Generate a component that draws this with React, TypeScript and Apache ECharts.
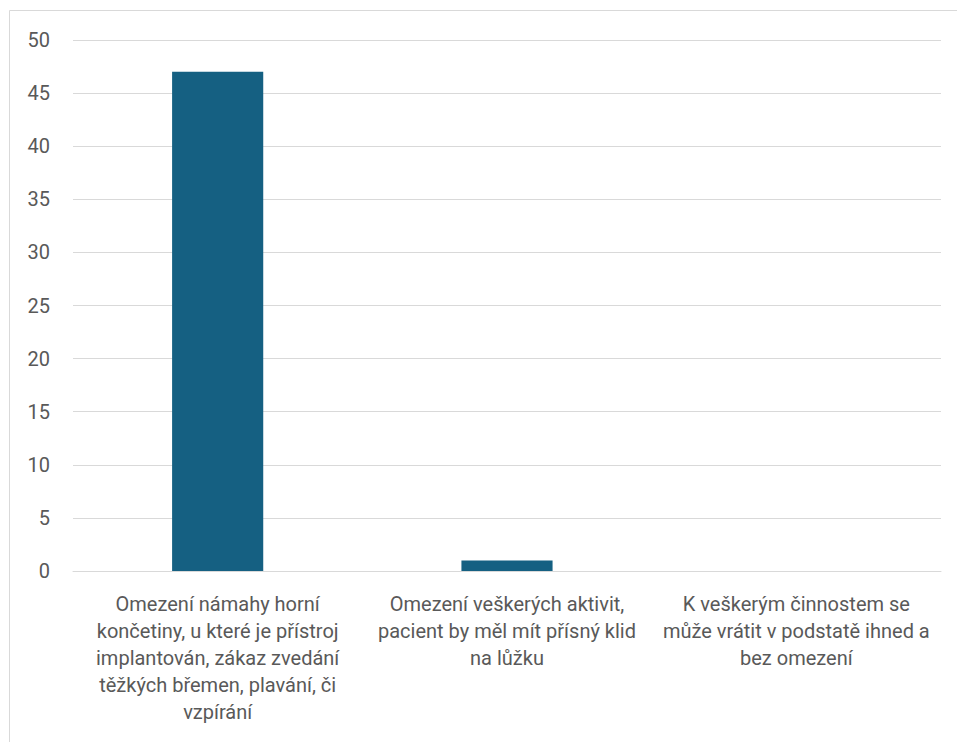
import React, { useEffect, useRef } from "react";
import * as echarts from "echarts";

const categories = [
  "Omezení námahy horní\nkončetiny, u které je přístroj\nimplantován, zákaz zvedání\ntěžkých břemen, plavání, či\nvzpírání",
  "Omezení veškerých aktivit,\npacient by měl mít přísný klid\nna lůžku",
  "K veškerým činnostem se\nmůže vrátit v podstatě ihned a\nbez omezení",
];
const values = [47, 1, 0];

export default function App() {
  const ref = useRef<HTMLDivElement>(null);
  useEffect(() => {
    if (!ref.current) return;
    const chart = echarts.init(ref.current, null, { renderer: "svg" });
    const font = "Roboto, 'Liberation Sans', sans-serif";
    chart.setOption({
      animation: false,
      backgroundColor: "#ffffff",
      graphic: [
        {
          type: "rect",
          shape: { x: 9.5, y: 10.5, width: 1000, height: 800 },
          style: { fill: "none", stroke: "#d9d9d9", lineWidth: 1 },
          silent: true,
        },
      ],
      grid: { left: 73, right: 16, top: 40, bottom: 171, containLabel: false },
      xAxis: {
        type: "category",
        data: categories,
        axisLine: { show: true, lineStyle: { color: "#d9d9d9", width: 1 } },
        axisTick: { show: false },
        axisLabel: {
          interval: 0,
          color: "#595959",
          fontFamily: font,
          fontSize: 20,
          lineHeight: 27,
          margin: 19,
          align: "center",
        },
      },
      yAxis: {
        type: "value",
        min: 0,
        max: 50,
        interval: 5,
        axisLine: { show: false },
        axisTick: { show: false },
        splitLine: { lineStyle: { color: "#d9d9d9", width: 1 } },
        axisLabel: { color: "#595959", fontFamily: font, fontSize: 20, margin: 23 },
      },
      series: [
        {
          type: "bar",
          data: values,
          barWidth: "31.5%",
          itemStyle: { color: "#156082" },
        },
      ],
    });
    return () => chart.dispose();
  }, []);
  return (
    <div style={{ position: "fixed", left: 0, top: 0, width: 957, height: 742 }}>
      <div ref={ref} style={{ width: 957, height: 742 }} />
    </div>
  );
}
